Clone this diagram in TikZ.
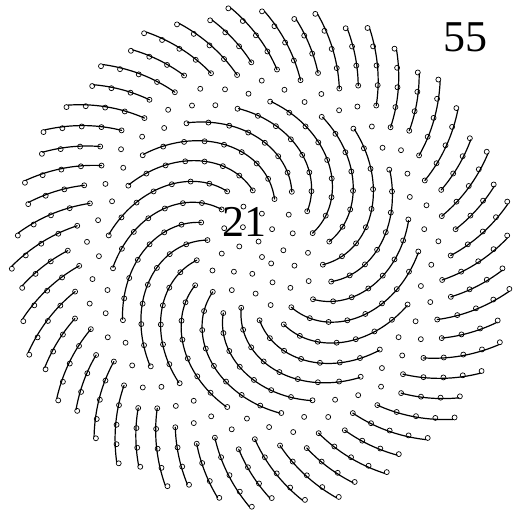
\documentclass[tikz,border=0pt]{standalone}
\usepackage{fontspec}
\setmainfont{Liberation Serif}
\usepackage{tikz}
\tikzset{
 seed/.style={line width=.7pt},
 arm/.style={line width=1.2pt,line cap=round},
 count/.style={font=\fontsize{44}{44}\selectfont,inner sep=0pt}
}
\newcommand\cc{11.2}
\newcommand\tz{-172.5}
\begin{document}
\begin{tikzpicture}[x=1pt,y=1pt]
 \useasboundingbox (-262,-258) rectangle (258,257);
 \foreach \n in {0,...,510}{
  \pgfmathsetmacro{\ang}{\tz+360*frac(\n*0.381966)}
  \pgfmathsetmacro{\rad}{\cc*sqrt(\n)}
  \draw[seed] (\ang:\rad) circle (2.5);
 }
 \foreach \j in {0,...,20}{
  \pgfmathtruncatemacro{\na}{24+\j}
  \pgfmathtruncatemacro{\m}{floor((198-\na)/21)}
  \pgfmathtruncatemacro{\s}{8*\m+1}
  \pgfmathsetmacro{\base}{\tz+360*frac(\na*0.381966)}
  \draw[arm,domain=0:\m,samples=\s,variable=\t,smooth]
  plot ({\base+7.663*\t}:{\cc*sqrt(\na+21*\t)});
 }
 \foreach \j in {0,...,54}{
  \pgfmathtruncatemacro{\na}{258+\j}
  \pgfmathtruncatemacro{\m}{floor((510-\na)/55)}
  \pgfmathtruncatemacro{\s}{8*\m+1}
  \pgfmathsetmacro{\base}{\tz+360*frac(\na*0.381966)}
  \draw[arm,domain=0:\m,samples=\s,variable=\t,smooth]
  plot ({\base+2.927*\t}:{\cc*sqrt(\na+55*\t)});
 }
 \node[count] (inner) at (-17,35) {21};
 \node[count] (outer) at (204,220) {55};
\end{tikzpicture}
\end{document}
